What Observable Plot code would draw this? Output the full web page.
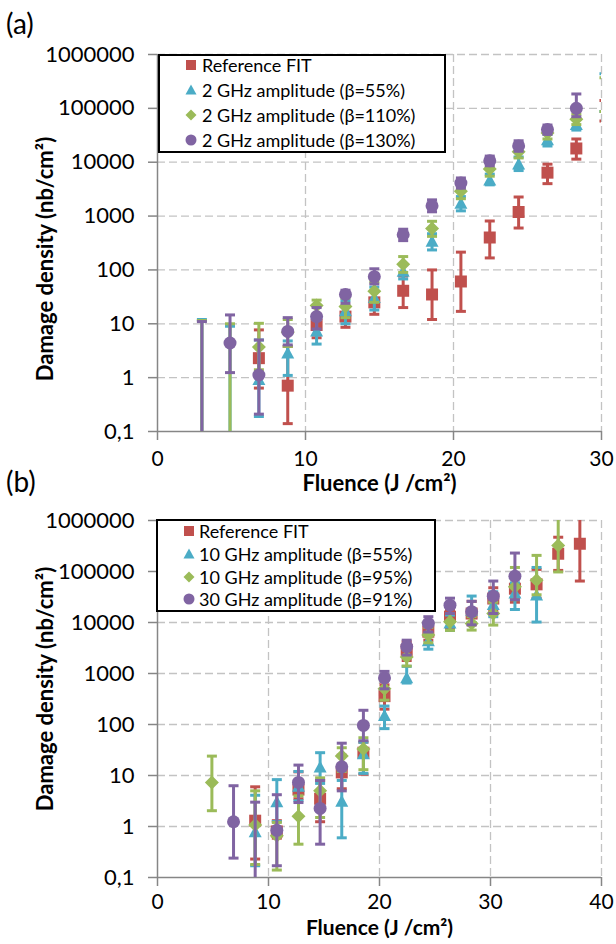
<!DOCTYPE html>
<html><head><meta charset="utf-8">
<script src="https://cdn.jsdelivr.net/npm/d3@7"></script>
<script src="https://cdn.jsdelivr.net/npm/@observablehq/plot@0.6"></script>
<style>
html,body{margin:0;padding:0;background:#fff;}
#wrap{position:relative;width:616px;height:944px;overflow:hidden;font-family:Lato,"Open Sans",sans-serif;color:#000;}
.panel{position:absolute;left:0;}
.plab{position:absolute;font-size:28px;line-height:28px;color:#000;}
.legend{position:absolute;background:#fff;border:2px solid #000;box-sizing:border-box;}
.legend .row{position:absolute;display:flex;align-items:center;white-space:nowrap;font-size:18px;line-height:20px;height:20px;}
</style></head><body><div id="wrap"></div>
<script>
// ---------- data ----------
const yTicks = [0.1, 1, 10, 100, 1000, 10000, 100000, 1000000];
const xTicksA = [0, 10, 20, 30];
const xTicksB = [0, 10, 20, 30, 40];
const xLabel = "Fluence (J /cm²)";
const yLabel = "Damage density (nb/cm²)";

// Panel (a)
const fluenceA = [3.0, 4.9, 6.85, 8.8, 10.75, 12.7, 14.65, 16.6, 18.55, 20.5, 22.45, 24.4, 26.35, 28.3, 30.2];
const namesA = ["Reference FIT", "2 GHz amplitude (β=55%)", "2 GHz amplitude (β=110%)", "2 GHz amplitude (β=130%)"];
const refA    = [null, null, 2.3, 0.71, 9.5, 13.6, 25, 41, 35, 61, 400, 1190, 6400, 18000, 95000];
const refA_lo = [null, null, 0.64, 0.14, 5.5, 8.6, 15, 20, 12, 17, 167, 600, 4000, 11400, 58000];
const refA_hi = [null, null, 7.7, 3.8, 15, 21, 40, 77, 100, 214, 810, 2260, 9200, 27000, 140000];
const a55     = [0.05, 0.05, 0.9, 2.8, 7.2, 17, 30, 93, 335, 1700, 4600, 9100, 25700, 49000, 200000];
const a55_lo  = [0.01, 0.01, 0.19, 1.1, 4.2, 10, 18, 68, 235, 1250, 3800, 7000, 20000, 39500, 87000];
const a55_hi  = [12, 9, 5.0, 4.8, 12, 27, 48, 125, 470, 2300, 6000, 12500, 33000, 62000, 440000];
const a110    = [0.05, 0.05, 3.7, 7, 21.8, 21, 40, 127, 590, 2900, 7500, 15600, 35000, 63000, 180000];
const a110_lo = [0.01, 0.01, 1.4, 3.8, 14, 13, 25, 90, 420, 2100, 5500, 12000, 27000, 50000, 87000];
const a110_hi = [11.5, 10, 10.2, 12, 27.5, 30, 60, 177, 800, 3900, 10000, 20000, 44000, 78000, 370000];
const a130    = [0.05, 4.4, 1.12, 7.2, 13.6, 35, 75, 450, 1550, 4100, 10600, 20100, 40500, 100000, null];
const a130_lo = [0.01, 1.24, 0.21, 4.05, 8, 24, 55, 350, 1200, 3300, 8600, 16000, 33000, 70000, null];
const a130_hi = [11, 14.6, 5.0, 13, 20, 42, 105, 570, 2000, 5100, 13000, 25000, 49000, 185000, null];

// Panel (b)
const fluenceB = [4.9, 6.85, 8.8, 10.75, 12.7, 14.65, 16.6, 18.55, 20.45, 22.45, 24.4, 26.35, 28.3, 30.25, 32.2, 34.15, 36.1, 38.05];
const namesB = ["Reference FIT", "10 GHz amplitude (β=55%)", "10 GHz amplitude (β=95%)", "30 GHz amplitude (β=91%)"];
const refB    = [null, null, 1.3, 0.8, 5.3, 3.5, 11.5, 28, 360, 2900, 6600, 13000, 15000, 29500, 46000, 56000, 223000, 350000];
const refB_lo = [null, null, 0.23, 0.59, 3.5, 1.24, 5.5, 10.6, 200, 1800, 4500, 8000, 9000, 17000, 25000, 30000, 105000, 65000];
const refB_hi = [null, null, 6.0, 1.3, 11.8, 8, 25, 45, 600, 4200, 9000, 18000, 26000, 48000, 80000, 110000, 470000, 2000000];
const b55     = [null, null, 0.77, 3.0, 6.0, 14.3, 3.05, 26, 147, 810, 4300, 9600, 17000, 22000, 37000, 34000, null, null];
const b55_lo  = [null, null, 0.17, 1.25, 3.2, 7, 0.6, 11, 83, 650, 3000, 7000, 10000, 13000, 18000, 10200, null, null];
const b55_hi  = [null, null, 4.1, 8.3, 12, 28, 8, 45, 230, 1380, 6000, 14000, 33000, 40000, 60000, 120000, null, null];
const b95     = [7.3, null, 1.07, 0.66, 1.58, 5.0, 24, 33, 500, 2100, 5700, 10400, 9600, 15000, 50000, 67000, 325000, null];
const b95_lo  = [2.04, null, 0.18, 0.14, 0.45, 1.5, 12, 13, 300, 1400, 4000, 7000, 7100, 8900, 28000, 35000, 98000, null];
const b95_hi  = [24, null, 5.0, 1.2, 4.0, 9, 35, 55, 750, 3000, 8000, 15000, 13000, 25000, 120000, 207000, 2000000, null];
const b91     = [null, 1.24, 0.07, 0.84, 7.3, 2.26, 14.8, 96, 820, 3370, 9600, 21900, 16300, 32800, 81000, null, null, null];
const b91_lo  = [null, 0.24, 0.01, 0.17, 2.95, 0.45, 5.0, 48, 500, 2300, 6500, 15000, 9000, 15000, 28000, null, null, null];
const b91_hi  = [null, 6.3, 3.0, 4.2, 16, 8, 43, 190, 1100, 4500, 13000, 30000, 26000, 65000, 230000, null, null, null];

// ---------- styling ----------
const colors = ["#C0504D", "#4BACC6", "#9BBB59", "#8064A2"];
const axisGray = "#868686";
const gridGray = "#c3c3c3";
const FONT = "Lato, 'Open Sans', sans-serif";

function sym(drawFn) { return {draw: drawFn}; }
const shapes = [
  sym((c) => { c.rect(-6, -6, 12, 12); }),
  sym((c) => { c.moveTo(0, -7); c.lineTo(6.5, 5); c.lineTo(-6.5, 5); c.closePath(); }),
  sym((c) => { c.moveTo(0, -7); c.lineTo(7, 0); c.lineTo(0, 7); c.lineTo(-7, 0); c.closePath(); }),
  sym((c) => { c.moveTo(6.5, 0); c.arc(0, 0, 6.5, 0, 2 * Math.PI); })
];
const cap = sym((c) => { c.moveTo(-5, 0); c.lineTo(5, 0); });

const fmtY = d => d === 0.1 ? "0,1" : String(d);

function panel(fluence, series, xTicks, height, mt, mb, yLabelDy, xLabelDy, xPad, xLabelSize) {
  const xmax = xTicks[xTicks.length - 1];
  const marks = [
    Plot.gridY(yTicks.slice(1), {stroke: gridGray, strokeOpacity: 1, strokeWidth: 1.3, strokeDasharray: "8,4"}),
    Plot.gridX(xTicks.slice(1), {stroke: gridGray, strokeOpacity: 1, strokeWidth: 1.3, strokeDasharray: "8,4"}),
    Plot.ruleX([0], {stroke: axisGray, strokeWidth: 1.5}),
    Plot.ruleY([0.1], {stroke: axisGray, strokeWidth: 1.5}),
    Plot.axisY({ticks: yTicks, tickFormat: fmtY, tickSize: 9, tickPadding: 14, stroke: axisGray, strokeWidth: 1.5, label: null, fontSize: 22, fill: "#000"}),
    Plot.axisX({ticks: xTicks, tickFormat: d => String(d), tickSize: 9, tickPadding: xPad, stroke: axisGray, strokeWidth: 1.5, label: null, fontSize: 21, fill: "#000"}),
    Plot.text([yLabel], {text: d => d, frameAnchor: "left", dx: -112, dy: yLabelDy, rotate: -90, textAnchor: "middle", fontWeight: "bold", fontSize: 22, fill: "#000"}),
    Plot.text([xLabel], {text: d => d, frameAnchor: "bottom", dy: xLabelDy, textAnchor: "middle", fontWeight: "bold", fontSize: xLabelSize, fill: "#000"})
  ];
  series.forEach((s, k) => {
    const rows = fluence.map((x, i) => ({x, v: s.v[i], lo: s.lo[i], hi: s.hi[i]})).filter(d => d.v != null);
    const col = colors[k];
    marks.push(Plot.ruleX(rows, {x: "x", y1: "lo", y2: "hi", stroke: col, strokeWidth: 3, clip: true}));
    marks.push(Plot.dot(rows, {x: "x", y: "lo", symbol: cap, fill: "none", stroke: col, strokeWidth: 3, clip: true}));
    marks.push(Plot.dot(rows, {x: "x", y: "hi", symbol: cap, fill: "none", stroke: col, strokeWidth: 3, clip: true}));
    // markers of points outside the axis range are not drawn (as in the source spreadsheet chart)
    marks.push(Plot.dot(rows.filter(d => d.x <= xmax), {x: "x", y: "v", symbol: shapes[k], fill: col, stroke: null, clip: true}));
  });
  return Plot.plot({
    width: 616, height,
    marginLeft: 157, marginRight: 15, marginTop: mt, marginBottom: mb,
    style: {fontFamily: FONT, fontSize: "22px", background: "transparent", overflow: "visible"},
    x: {domain: [0, xmax]},
    y: {type: "log", domain: [0.1, 1000000]},
    marks
  });
}

const wrap = document.getElementById("wrap");
const seriesA = [
  {v: refA, lo: refA_lo, hi: refA_hi}, {v: a55, lo: a55_lo, hi: a55_hi},
  {v: a110, lo: a110_lo, hi: a110_hi}, {v: a130, lo: a130_lo, hi: a130_hi}
];
const seriesB = [
  {v: refB, lo: refB_lo, hi: refB_hi}, {v: b55, lo: b55_lo, hi: b55_hi},
  {v: b95, lo: b95_lo, hi: b95_hi}, {v: b91, lo: b91_lo, hi: b91_hi}
];
const pA = panel(fluenceA, seriesA, xTicksA, 500, 54, 69, 16, 59, 11, 22);
pA.classList.add("panel"); pA.style.top = "0px"; wrap.appendChild(pA);
const pB = panel(fluenceB, seriesB, xTicksB, 444, 20, 67, -10, 57, 8, 21);
pB.classList.add("panel"); pB.style.top = "500px"; wrap.appendChild(pB);

function label(txt, left, top) {
  const d = document.createElement("div"); d.className = "plab"; d.textContent = txt;
  d.style.left = left + "px"; d.style.top = top + "px"; wrap.appendChild(d);
}
label("(a)", 6, 9);
label("(b)", 6, 467);

const iconPaths = [
  '<rect x="1" y="1" width="10" height="10"/>',
  '<path d="M6 0.5 L11.5 10.5 L0.5 10.5 Z"/>',
  '<path d="M6 0.5 L11.5 6 L6 11.5 L0.5 6 Z"/>',
  '<circle cx="6" cy="6" r="5.5"/>'
];
function legend(names, box, rows, iconX, textX) {
  const L = document.createElement("div"); L.className = "legend";
  L.style.left = box[0] + "px"; L.style.top = box[1] + "px";
  L.style.width = (box[2] - box[0]) + "px"; L.style.height = (box[3] - box[1]) + "px";
  names.forEach((n, k) => {
    const r = document.createElement("div"); r.className = "row";
    r.style.left = (iconX - box[0] - 2 - 6) + "px";
    r.style.top = (rows[k] - box[1] - 2 - 10) + "px";
    r.innerHTML = `<svg width="12" height="12" viewBox="0 0 12 12" fill="${colors[k]}">${iconPaths[k]}</svg><span style="margin-left:${textX - iconX - 6}px"></span>`;
    r.querySelector("span").textContent = n;
    L.appendChild(r);
  });
  wrap.appendChild(L);
}
legend(namesA, [158, 54, 446, 153], [65, 90, 115, 140], 191, 202);
legend(namesB, [156, 519, 436, 612], [531, 554, 577, 599], 189, 199);
</script></body></html>
